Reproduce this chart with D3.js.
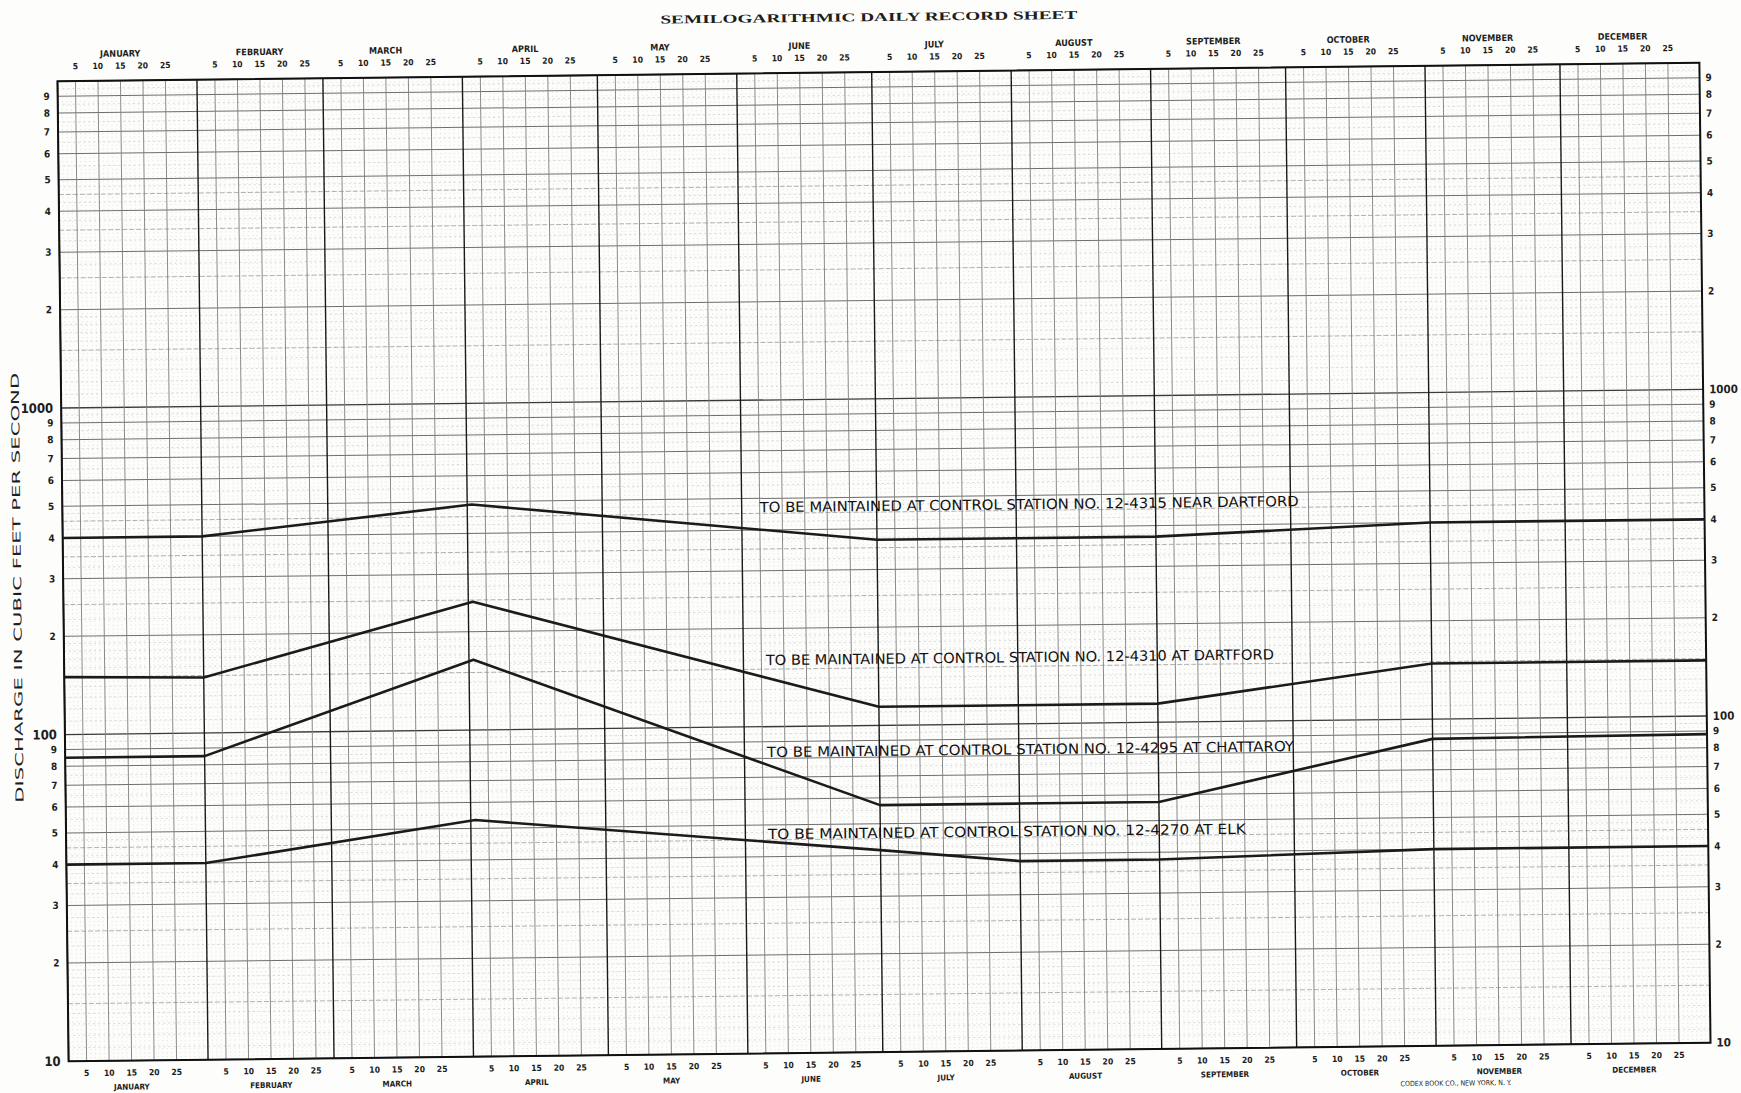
<!DOCTYPE html>
<html>
<head>
  <meta charset="utf-8"/>
  <title>Semilogarithmic Daily Record Sheet</title>
  <style type="text/css">
    body {
      padding:0;
      margin:0;
      background-color:#fdfdfc;
    }
    text {
      font-family: "Liberation Sans Narrow", "DejaVu Sans Condensed", "Liberation Sans", sans-serif;
      fill:#1e1e1e;
    }
  </style>
  <script src="https://cdn.jsdelivr.net/npm/d3@7/dist/d3.min.js" charset="utf-8"></script>
</head>

<body>
  <script type="text/javascript">

  var w = 1741, h = 1093;

  // DATA
  var months = ["JANUARY", "FEBRUARY", "MARCH", "APRIL", "MAY", "JUNE",
                "JULY", "AUGUST", "SEPTEMBER", "OCTOBER", "NOVEMBER", "DECEMBER"];
  var dayTicks = [5, 10, 15, 20, 25];
  var mantissaLabels = [2, 3, 4, 5, 6, 7, 8, 9];
  var decadeLabels = [10, 100, 1000];

  // break points of the control curves (year end closes the line)
  var breakDates = ["2001-01-01", "2001-02-01", "2001-04-02", "2001-07-01",
                    "2001-08-01", "2001-09-01", "2001-11-01", "2002-01-01"];
  var station4315 = [400, 400, 490, 370, 370, 370, 400, 400];
  var station4310 = [150, 148, 247, 114, 114, 114, 148, 148];
  var station4295 = [85, 85, 164, 57, 57, 57, 87, 88];
  var station4270 = [40, 40, 53, 41.5, 38, 38, 40, 40];

  var noteTexts = ["TO BE MAINTAINED AT CONTROL STATION NO. 12-4315 NEAR DARTFORD",
                   "TO BE MAINTAINED AT CONTROL STATION NO. 12-4310 AT DARTFORD",
                   "TO BE MAINTAINED AT CONTROL STATION NO. 12-4295 AT CHATTAROY",
                   "TO BE MAINTAINED AT CONTROL STATION NO. 12-4270 AT ELK"];
  var noteDates = ["2001-06-05", "2001-06-06", "2001-06-06", "2001-06-06"];
  var noteValues = [470, 160, 83.6, 46.9];
  var noteWidths = [539, 508, 527, 478];

  var parse = d3.utcParse("%Y-%m-%d");

  // plot frame (paper is scanned a little crooked, so the whole sheet is turned)
  var frameL = 63, frameR = 1705, frameT = 72, frameB = 1052;

  var x = d3.scaleUtc()
            .domain([parse("2001-01-01"), parse("2002-01-01")])
            .range([frameL, frameR]);

  var y = d3.scaleLog()
            .domain([10, 10000])
            .range([frameB, frameT]);

  var svg = d3.select("body").append("svg")
              .attr("width", w)
              .attr("height", h);

  var sheet = svg.append("g")
                 .attr("id", "sheet")
                 .attr("transform", "rotate(-0.65, 884, 562)");

  var gridGroup = sheet.append("g").attr("id", "grid");
  var lineGroup = sheet.append("g").attr("id", "lines");
  var labelGroup = sheet.append("g").attr("id", "labels");

  // HORIZONTAL GRID
  var hLines = [];
  [10, 100, 1000].forEach(function(dec) {
    d3.range(11, 20).forEach(function(k) {
      var m = k / 10;
      hLines.push({v: dec * m, kind: m === 1.5 ? "half" : "fine"});
    });
    [2.25, 2.75, 3.25, 3.75, 4.25, 4.75, 5.5, 6.5, 7.5, 8.5, 9.5].forEach(function(m) {
      hLines.push({v: dec * m, kind: "fine"});
    });
    [2.5, 3.5, 4.5].forEach(function(m) { hLines.push({v: dec * m, kind: "half"}); });
    mantissaLabels.forEach(function(m) { hLines.push({v: dec * m, kind: "major"}); });
  });
  [10, 100, 1000, 10000].forEach(function(v) { hLines.push({v: v, kind: "decade"}); });

  var order = {fine: 0, half: 1, major: 2, decade: 3};
  hLines.sort(function(a, b) { return order[a.kind] - order[b.kind]; });

  var hStyle = {
    fine:   {stroke: "#c9c9c9", width: 0.7, dash: "2,3"},
    half:   {stroke: "#9d9d9d", width: 0.8, dash: "5,2"},
    major:  {stroke: "#6f6f6f", width: 1.0, dash: null},
    decade: {stroke: "#3a3a3a", width: 1.3, dash: null}
  };

  // VERTICAL GRID (one line a day, heavier every fifth day and at each month)
  var days = d3.utcDay.range(parse("2001-01-01"), parse("2002-01-01"));
  var vLines = days.map(function(d) {
    var dom = d.getUTCDate();
    var kind = dom === 1 ? "month" : (dayTicks.indexOf(dom) >= 0 ? "five" : "day");
    return {date: d, kind: kind};
  });

  var vStyle = {
    day:   {stroke: "#cdcdcd", width: 0.6, dash: "1,3"},
    five:  {stroke: "#7d7d7d", width: 0.9, dash: null},
    month: {stroke: "#1a1a1a", width: 1.4, dash: null}
  };

  gridGroup.selectAll("line.vday")
           .data(vLines.filter(function(d) { return d.kind === "day"; }))
           .enter().append("line")
           .attr("class", "vday")
           .attr("x1", function(d) { return x(d.date); })
           .attr("x2", function(d) { return x(d.date); })
           .attr("y1", frameT)
           .attr("y2", frameB)
           .style("stroke", vStyle.day.stroke)
           .style("stroke-width", vStyle.day.width)
           .style("stroke-dasharray", vStyle.day.dash);

  gridGroup.selectAll("line.h")
           .data(hLines)
           .enter().append("line")
           .attr("class", "h")
           .attr("x1", frameL)
           .attr("x2", frameR)
           .attr("y1", function(d) { return y(d.v); })
           .attr("y2", function(d) { return y(d.v); })
           .style("stroke", function(d) { return hStyle[d.kind].stroke; })
           .style("stroke-width", function(d) { return hStyle[d.kind].width; })
           .style("stroke-dasharray", function(d) { return hStyle[d.kind].dash; });

  gridGroup.selectAll("line.v")
           .data(vLines.filter(function(d) { return d.kind !== "day"; }))
           .enter().append("line")
           .attr("class", "v")
           .attr("x1", function(d) { return x(d.date); })
           .attr("x2", function(d) { return x(d.date); })
           .attr("y1", frameT)
           .attr("y2", frameB)
           .style("stroke", function(d) { return vStyle[d.kind].stroke; })
           .style("stroke-width", function(d) { return vStyle[d.kind].width; });

  // frame
  gridGroup.append("rect")
           .attr("x", frameL)
           .attr("y", frameT)
           .attr("width", frameR - frameL)
           .attr("height", frameB - frameT)
           .style("fill", "none")
           .style("stroke", "#111")
           .style("stroke-width", 2);

  // CONTROL CURVES
  var line = d3.line()
               .x(function(d) { return x(d.date); })
               .y(function(d) { return y(d.value); });

  [station4315, station4310, station4295, station4270].forEach(function(series, i) {
    var pts = series.map(function(v, j) { return {date: parse(breakDates[j]), value: v}; });
    lineGroup.append("path")
             .datum(pts)
             .attr("class", "control control-" + i)
             .attr("d", line)
             .style("fill", "none")
             .style("stroke", "#1b1b1b")
             .style("stroke-width", 2.6)
             .style("stroke-linejoin", "round");
  });

  labelGroup.selectAll("text.note")
            .data(noteTexts)
            .enter().append("text")
            .attr("class", "note")
            .attr("x", function(d, i) { return x(parse(noteDates[i])); })
            .attr("y", function(d, i) { return y(noteValues[i]); })
            .attr("dy", "0.36em")
            .attr("textLength", function(d, i) { return noteWidths[i]; })
            .attr("lengthAdjust", "spacingAndGlyphs")
            .style("font-size", "14px")
            .style("fill", "#111")
            .text(function(d) { return d; });

  // TITLE
  labelGroup.append("text")
            .attr("x", 875)
            .attr("y", 21)
            .attr("text-anchor", "middle")
            .attr("textLength", 417)
            .attr("lengthAdjust", "spacingAndGlyphs")
            .style("font-family", "'Liberation Serif', 'DejaVu Serif', serif")
            .style("font-weight", "bold")
            .style("font-size", "12px")
            .text("SEMILOGARITHMIC DAILY RECORD SHEET");

  // MONTH AND DAY LABELS, TOP AND BOTTOM
  months.forEach(function(name, i) {
    var mid = new Date(Date.UTC(2001, i, 15));
    labelGroup.append("text")
              .attr("x", x(mid))
              .attr("y", 48)
              .attr("text-anchor", "middle")
              .style("font-size", "9px")
              .style("font-weight", "bold")
              .text(name);
    labelGroup.append("text")
              .attr("x", x(mid))
              .attr("y", 1081)
              .attr("text-anchor", "middle")
              .style("font-size", "8px")
              .style("font-weight", "bold")
              .text(name);
    dayTicks.forEach(function(dd) {
      var dt = new Date(Date.UTC(2001, i, dd));
      labelGroup.append("text")
                .attr("x", x(dt))
                .attr("y", 60)
                .attr("text-anchor", "middle")
                .style("font-size", "8.5px")
                .style("font-weight", "bold")
                .text(dd);
      labelGroup.append("text")
                .attr("x", x(dt))
                .attr("y", 1067)
                .attr("text-anchor", "middle")
                .style("font-size", "8.5px")
                .style("font-weight", "bold")
                .text(dd);
    });
  });

  // VALUE LABELS, LEFT AND RIGHT
  var valueTicks = [];
  [10, 100, 1000].forEach(function(dec) {
    mantissaLabels.forEach(function(m) { valueTicks.push({v: dec * m, t: String(m), big: false}); });
  });
  decadeLabels.forEach(function(v) { valueTicks.push({v: v, t: String(v), big: true}); });

  labelGroup.selectAll("text.lefttick")
            .data(valueTicks)
            .enter().append("text")
            .attr("class", "lefttick")
            .attr("x", frameL - 8)
            .attr("y", function(d) { return y(d.v); })
            .attr("dy", "0.35em")
            .attr("text-anchor", "end")
            .style("font-size", function(d) { return d.big ? "13px" : "10px"; })
            .style("font-weight", "bold")
            .text(function(d) { return d.t; });

  labelGroup.selectAll("text.righttick")
            .data(valueTicks)
            .enter().append("text")
            .attr("class", "righttick")
            .attr("x", frameR + 6)
            .attr("y", function(d) { return y(d.v); })
            .attr("dy", "0.35em")
            .attr("text-anchor", "start")
            .style("font-size", function(d) { return d.big ? "11.5px" : "10px"; })
            .style("font-weight", "bold")
            .text(function(d) { return d.t; });

  // axis title
  labelGroup.append("text")
            .attr("transform", "translate(17,578) rotate(-90)")
            .attr("text-anchor", "middle")
            .attr("dy", "0.35em")
            .attr("textLength", 430)
            .attr("lengthAdjust", "spacingAndGlyphs")
            .style("font-size", "11px")
            .text("DISCHARGE IN CUBIC FEET PER SECOND");

  // printer's imprint
  labelGroup.append("text")
            .attr("x", 1450)
            .attr("y", 1092)
            .attr("text-anchor", "middle")
            .style("font-size", "7px")
            .text("CODEX BOOK CO., NEW YORK, N. Y.");

  </script>
</body>
</html>
